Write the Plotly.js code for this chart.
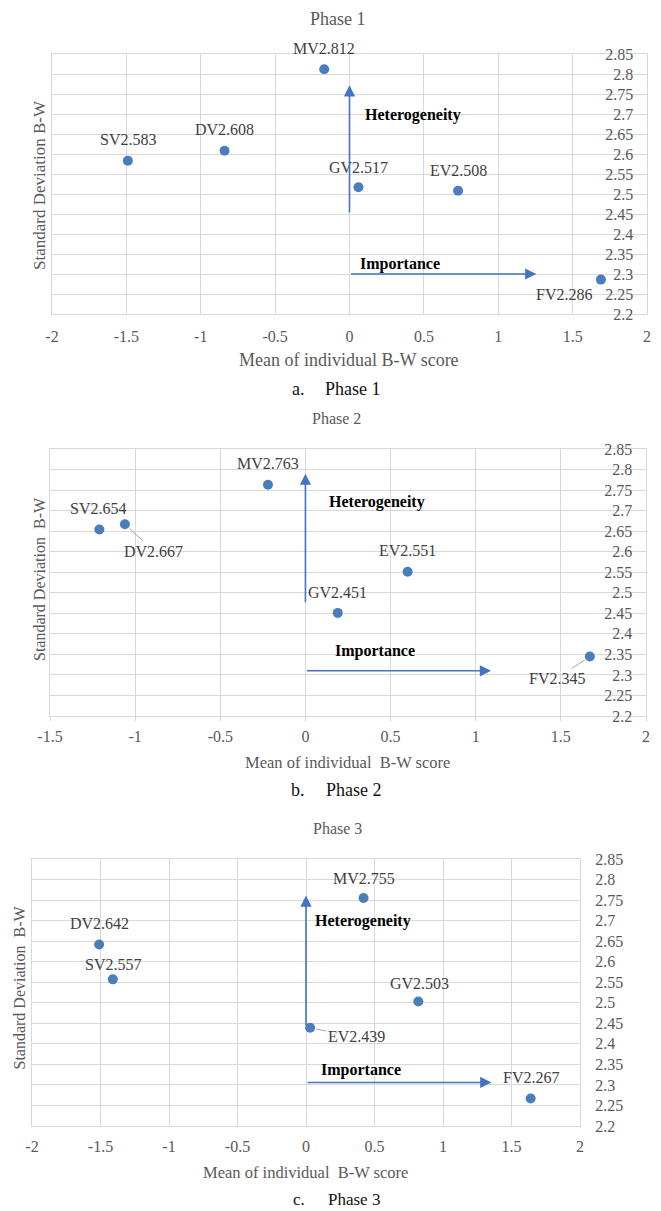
<!DOCTYPE html>
<html><head><meta charset="utf-8">
<script src="https://cdn.plot.ly/plotly-3.0.1.min.js"></script>
<style>html,body{margin:0;padding:0;background:#fff}</style>
</head><body><div id="chart" style="width:661px;height:1211px"></div>
<script>
// ---------- data ----------
const codes1 = ['MV','SV','DV','GV','EV','FV'];
const mean1  = [-0.17,-1.49,-0.84,0.06,0.73,1.69];
const sd1    = [2.812,2.583,2.608,2.517,2.508,2.286];

const codes2 = ['MV','SV','DV','EV','GV','FV'];
const mean2  = [-0.22,-1.21,-1.06,0.60,0.19,1.67];
const sd2    = [2.763,2.654,2.667,2.551,2.451,2.345];

const codes3 = ['MV','DV','SV','GV','EV','FV'];
const mean3  = [0.42,-1.51,-1.41,0.82,0.03,1.64];
const sd3    = [2.755,2.642,2.557,2.503,2.439,2.267];

const xTicksA  = [-2,-1.5,-1,-0.5,0,0.5,1,1.5,2];
const xLabelsA = ['-2','-1.5','-1','-0.5','0','0.5','1','1.5','2'];
const xTicksB  = [-1.5,-1,-0.5,0,0.5,1,1.5,2];
const xLabelsB = ['-1.5','-1','-0.5','0','0.5','1','1.5','2'];
const yTicks   = [2.2,2.25,2.3,2.35,2.4,2.45,2.5,2.55,2.6,2.65,2.7,2.75,2.8,2.85];
const yLabels  = ['2.2','2.25','2.3','2.35','2.4','2.45','2.5','2.55','2.6','2.65','2.7','2.75','2.8','2.85'];

const titles   = ['Phase 1','Phase 2','Phase 3'];
const captionLetters = ['a.','b.','c.'];
const xTitles  = ['Mean of individual B-W score','Mean of individual  B-W score','Mean of individual  B-W score'];
const yTitles  = ['Standard Deviation B-W','Standard Deviation  B-W','Standard Deviation  B-W'];
const arrowWords = ['Heterogeneity','Importance'];

// ---------- styling / positions ----------
const W = 661, H = 1211;
const SERIF = 'Liberation Serif, Times New Roman, serif';
const GRID = '#d9d9d9';
const DOT = '#4a7ebb';
const ARROW = '#4472c4';
const px = v => v / W;
const py = v => 1 - v / H;

// label offsets [dx, dy(up), leader?]
const off1 = [[0,21,0],[0,21,0],[0,21,0],[0,20,0],[0,20,0],[-37,-15,0]];
const off2 = [[0,21,0],[-1,21,0],[29,-27,1],[0,21,0],[0,20,0],[-33,-22,1]];
const off3 = [[0,20,0],[0,21,0],[0,15,0],[1,18,0],[46,-9,1],[0,21,0]];

const panels = [
  {codes:codes1, xs:mean1, ys:sd1, off:off1, xd:[px(52),px(647)], yd:[py(314),py(54)], xr:[-2,2], xt:xTicksA, xl:xLabelsA,
   inside:true, ticksX:'', vArrow:[0,2.45,2.772], hArrow:[0,1.256,2.30], het:[0.43,2.697], imp:[0.337,2.326],
   title:[338,19,18], ytitle:[39,185,17], xtitle:[349,360,18], cap:[298,353,389,18], fs:16, stand:8},
  {codes:codes2, xs:mean2, ys:sd2, off:off2, xd:[px(50),px(646)], yd:[py(716),py(449)], xr:[-1.5,2], xt:xTicksB, xl:xLabelsB,
   inside:true, ticksX:'outside', vArrow:[0,2.473,2.79], hArrow:[0,1.09,2.31], het:[0.42,2.721], imp:[0.408,2.358],
   title:[336,418,16], ytitle:[39,579,16], xtitle:[347,762,16.5], cap:[298,354,790,18], fs:16, stand:2},
  {codes:codes3, xs:mean3, ys:sd3, off:off3, xd:[px(32),px(580)], yd:[py(1126),py(859)], xr:[-2,2], xt:xTicksA, xl:xLabelsA,
   inside:false, ticksX:'', vArrow:[0,2.442,2.761], hArrow:[0,1.353,2.306], het:[0.413,2.698], imp:[0.398,2.336],
   title:[337,828,16], ytitle:[18.5,988,16], xtitle:[305,1172,16.5], cap:[299,354,1199,17], fs:16, stand:6}
];

const data = [];
const layout = {
  width: W, height: H, margin:{l:0,r:0,t:0,b:0},
  paper_bgcolor:'#fff', plot_bgcolor:'#fff', showlegend:false,
  font:{family:SERIF, color:'#595959'}, annotations:[]
};

function paperText(x, y, text, size, color, angle) {
  const a = {x:px(x), y:py(y), xref:'paper', yref:'paper', text:text, showarrow:false,
    xanchor:'center', yanchor:'middle', font:{family:SERIF, size:size, color:color}};
  if (angle) a.textangle = angle;
  return a;
}

panels.forEach((p, i) => {
  const n = i === 0 ? '' : String(i+1);
  const xa = 'x' + n, ya = 'y' + n;
  data.push({type:'scatter', mode:'markers', x:p.xs, y:p.ys, xaxis:xa, yaxis:ya,
    marker:{size:10, color:DOT}, hoverinfo:'skip', cliponaxis:false});

  layout['xaxis' + n] = {
    domain:p.xd, range:p.xr, anchor:ya, tickmode:'array', tickvals:p.xt, ticktext:p.xl,
    showgrid:true, gridcolor:GRID, gridwidth:1, zeroline:false,
    showline:true, mirror:true, linecolor:GRID, linewidth:1,
    ticks:p.ticksX, ticklen:4, tickcolor:GRID,
    tickfont:{family:SERIF, size:p.fs, color:'#595959'}, ticklabelstandoff:p.stand, fixedrange:true
  };
  const yax = {
    domain:p.yd, range:[2.2,2.85], anchor:xa, side:'right', tickmode:'array', tickvals:yTicks, ticktext:yLabels,
    showgrid:true, gridcolor:GRID, gridwidth:1, zeroline:false,
    showline:true, mirror:true, linecolor:GRID, linewidth:1, ticks:'',
    tickfont:{family:SERIF, size:p.fs, color:'#595959'}, fixedrange:true
  };
  if (p.inside) { yax.ticklabelposition = 'inside'; yax.ticklabeloverflow = 'allow'; yax.ticklabelstandoff = 14; }
  else { yax.ticklabelstandoff = 11; }
  layout['yaxis' + n] = yax;

  // point labels
  p.codes.forEach((c, k) => {
    const o = p.off[k];
    const txt = c + p.ys[k].toFixed(3);
    if (o[2]) {
      layout.annotations.push({x:p.xs[k], y:p.ys[k], xref:xa, yref:ya, text:txt, showarrow:true,
        ax:o[0], ay:-o[1], arrowhead:0, arrowwidth:1, arrowcolor:'#a6a6a6', standoff:6,
        font:{family:SERIF, size:16, color:'#404040'}});
    } else {
      layout.annotations.push({x:p.xs[k], y:p.ys[k], xref:xa, yref:ya, text:txt, showarrow:false,
        xshift:o[0], yshift:o[1], xanchor:'center', yanchor:'middle',
        font:{family:SERIF, size:16, color:'#404040'}});
    }
  });

  // arrows
  layout.annotations.push({x:p.vArrow[0], y:p.vArrow[2], ax:p.vArrow[0], ay:p.vArrow[1], xref:xa, yref:ya, axref:xa, ayref:ya,
    text:'', showarrow:true, arrowhead:2, arrowsize:1.4, arrowwidth:1.6, arrowcolor:ARROW});
  layout.annotations.push({x:p.hArrow[1], y:p.hArrow[2], ax:p.hArrow[0], ay:p.hArrow[2], xref:xa, yref:ya, axref:xa, ayref:ya,
    text:'', showarrow:true, arrowhead:2, arrowsize:1.4, arrowwidth:1.6, arrowcolor:ARROW});
  layout.annotations.push({x:p.het[0], y:p.het[1], xref:xa, yref:ya, text:'<b>'+arrowWords[0]+'</b>', showarrow:false,
    xanchor:'center', yanchor:'middle', font:{family:SERIF, size:16, color:'#000'}});
  layout.annotations.push({x:p.imp[0], y:p.imp[1], xref:xa, yref:ya, text:'<b>'+arrowWords[1]+'</b>', showarrow:false,
    xanchor:'center', yanchor:'middle', font:{family:SERIF, size:16, color:'#000'}});

  // titles and captions (paper coords)
  layout.annotations.push(paperText(p.title[0], p.title[1], titles[i], p.title[2], '#595959'));
  layout.annotations.push(paperText(p.ytitle[0], p.ytitle[1], yTitles[i], p.ytitle[2], '#595959', -90));
  layout.annotations.push(paperText(p.xtitle[0], p.xtitle[1], xTitles[i], p.xtitle[2], '#595959'));
  layout.annotations.push(paperText(p.cap[0], p.cap[2], captionLetters[i], p.cap[3], '#111'));
  layout.annotations.push(paperText(p.cap[1], p.cap[2], titles[i], p.cap[3], '#111'));
});

Plotly.newPlot('chart', data, layout, {staticPlot:true, displayModeBar:false});
</script>
</body></html>
